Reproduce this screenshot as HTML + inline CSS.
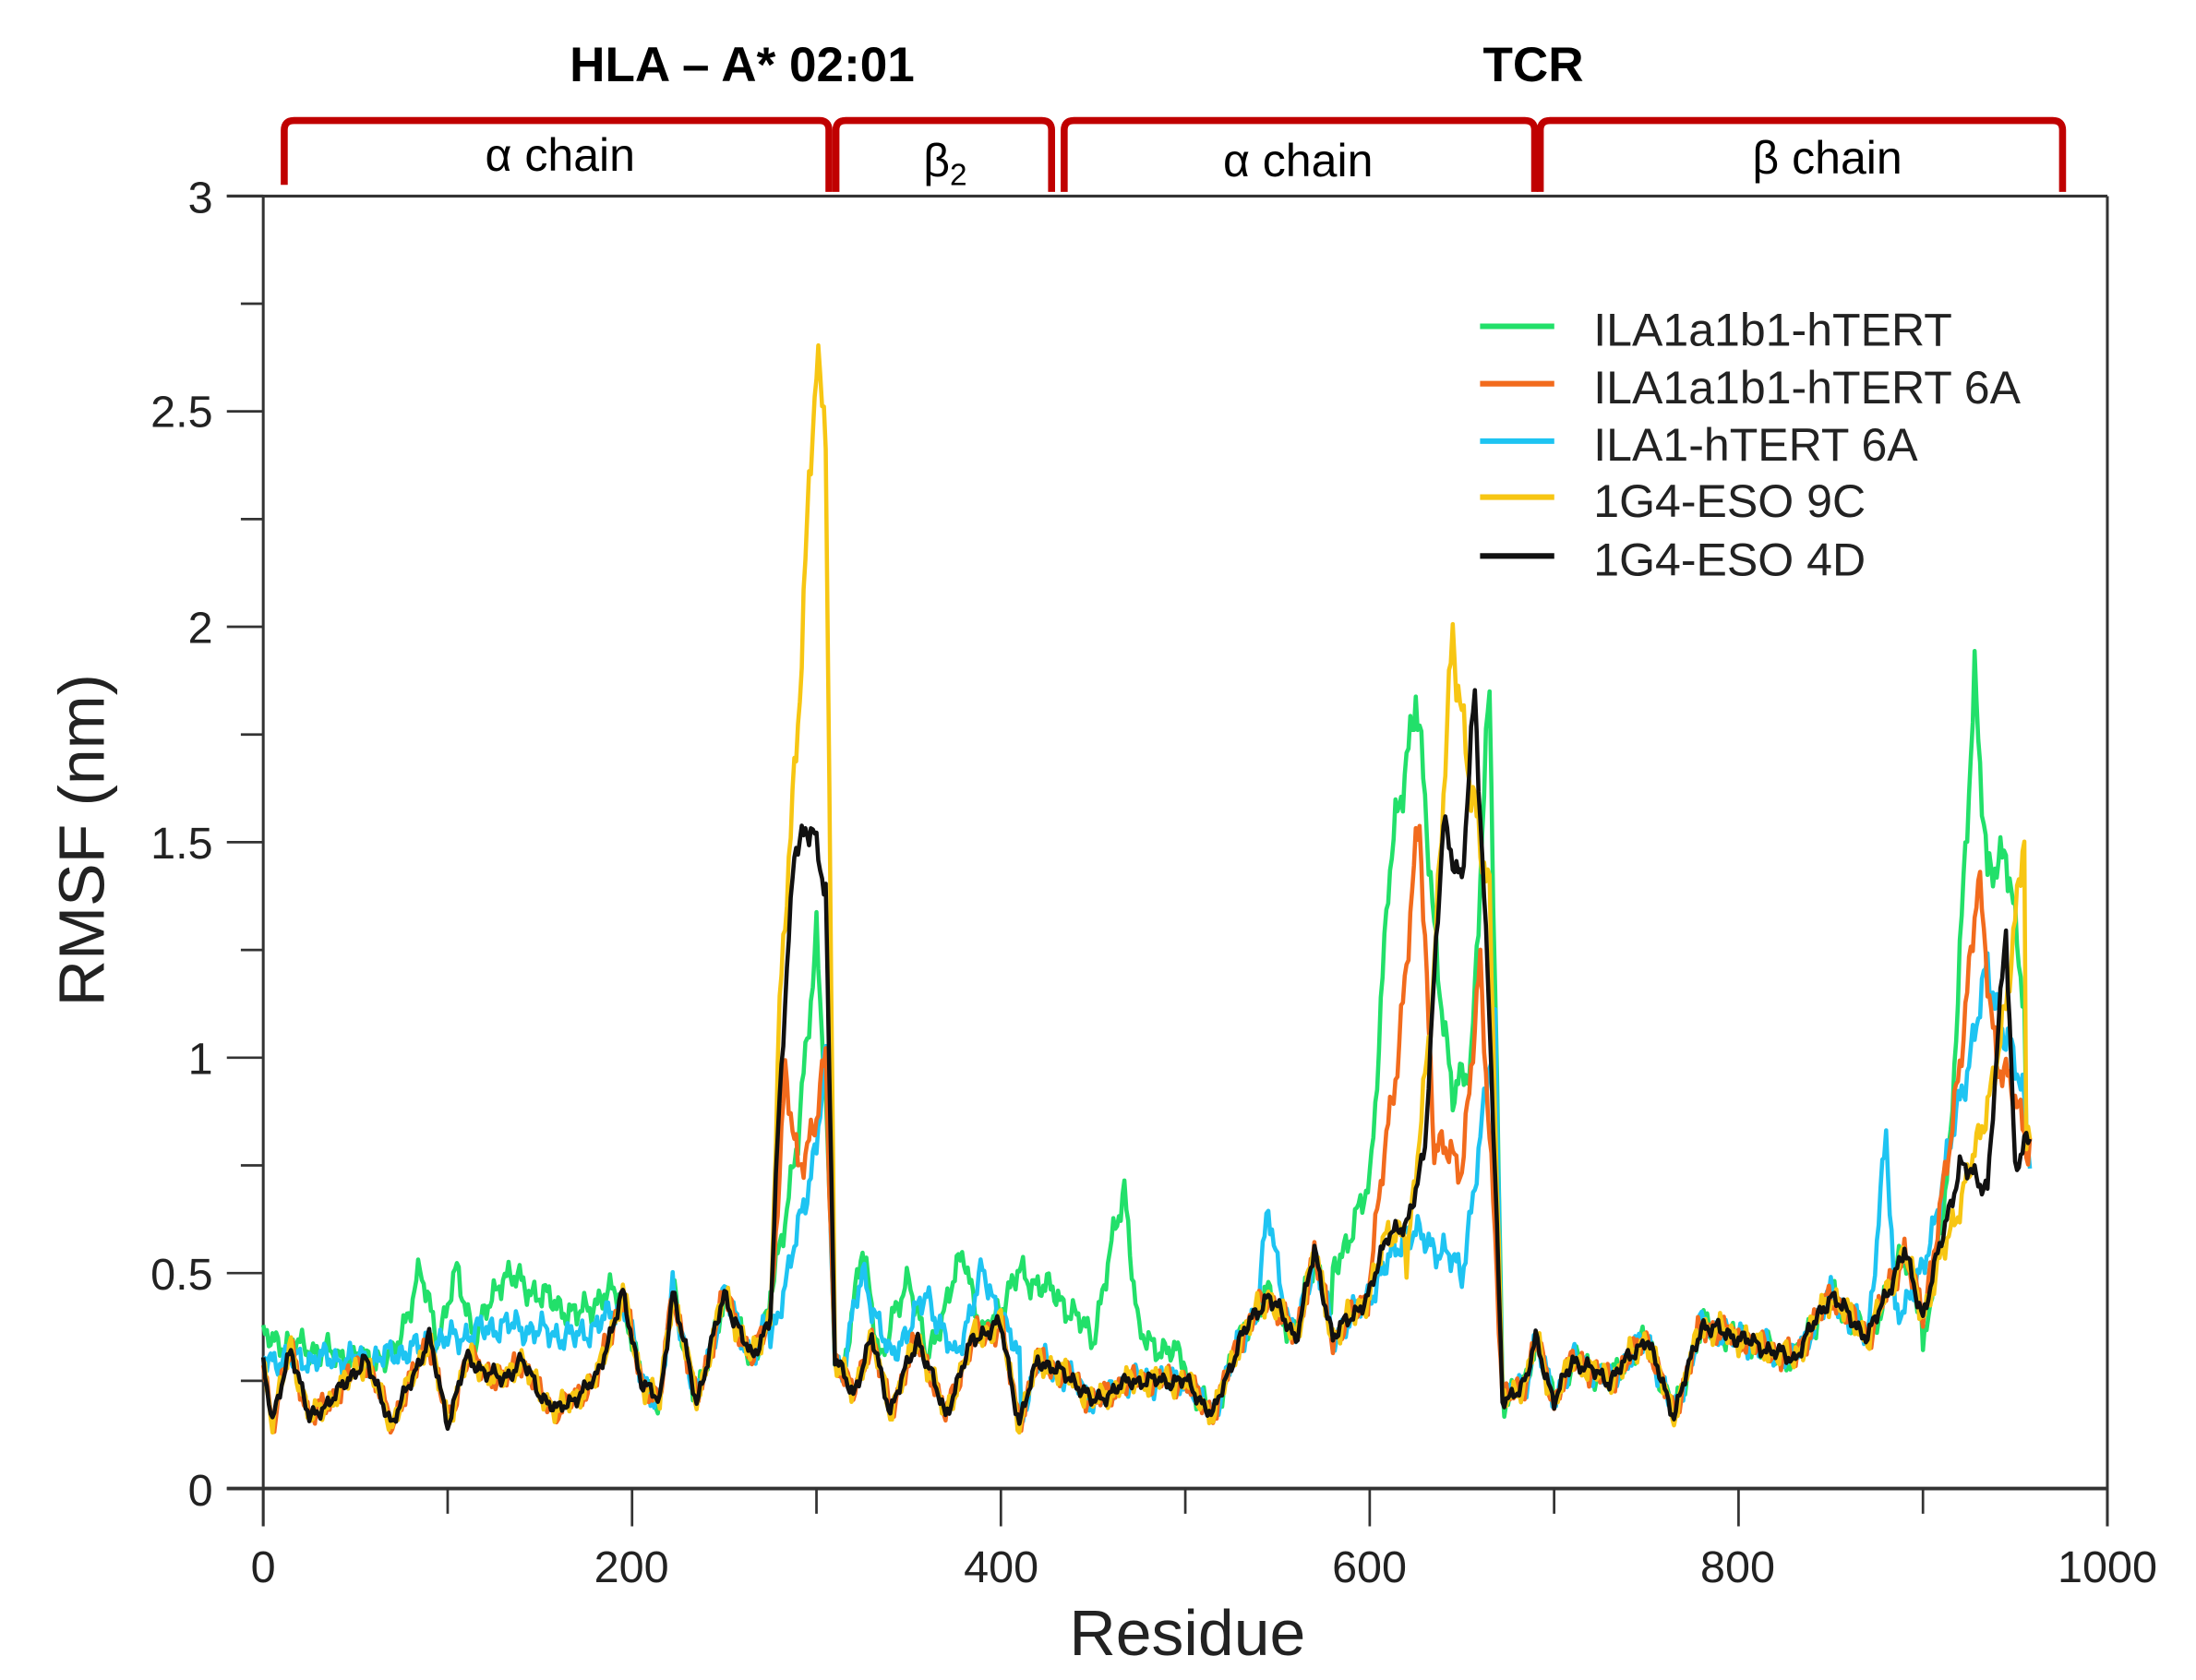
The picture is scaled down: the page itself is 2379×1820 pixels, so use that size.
<!DOCTYPE html>
<html><head><meta charset="utf-8"><style>
html,body{margin:0;padding:0;background:#fff;}
svg{display:block;}
text{font-family:"Liberation Sans",sans-serif;}
.cal{font-family:"Liberation Sans Narrow","Liberation Sans",sans-serif;}
</style></head><body>
<svg id="s" width="2379" height="1820" viewBox="0 0 1568.3 1199.7" xmlns="http://www.w3.org/2000/svg">
<rect width="1568.3" height="1199.7" fill="#fff"/>
<text class="cal" x="530" y="58" font-size="35" font-weight="bold" text-anchor="middle">HLA – A* 02:01</text>
<text class="cal" x="1095" y="58" font-size="35" font-weight="bold" text-anchor="middle">TCR</text>
<g fill="none" stroke="#c00000" stroke-width="5" stroke-linejoin="round">
<path d="M203,132 L203,93 Q203,86 210,86 L585,86 Q592,86 592,93 L592,137"/>
<path d="M597,137 L597,93 Q597,86 604,86 L744,86 Q751,86 751,93 L751,137"/>
<path d="M760,137 L760,93 Q760,86 767,86 L1089,86 Q1096,86 1096,93 L1096,137"/>
<path d="M1100,137 L1100,93 Q1100,86 1107,86 L1466,86 Q1473,86 1473,93 L1473,137"/>
</g>
<text class="cal" x="400" y="122" font-size="33" text-anchor="middle">α chain</text>
<text class="cal" x="675" y="126" font-size="33" text-anchor="middle">β<tspan font-size="22" dy="6">2</tspan></text>
<text class="cal" x="927" y="126" font-size="33" text-anchor="middle">α chain</text>
<text class="cal" x="1305" y="124" font-size="33" text-anchor="middle">β chain</text>
<g stroke="#333" stroke-width="2" fill="none">
<line x1="162" y1="140" x2="1505" y2="140"/>
<line x1="162" y1="1063" x2="1505" y2="1063" stroke-width="2.5"/>
<line x1="188" y1="140" x2="188" y2="1090"/>
<line x1="1505" y1="140" x2="1505" y2="1090"/>
</g>
<g id="ticks" stroke="#333" stroke-width="1.8"></g>
<g font-size="32" fill="#222" text-anchor="end">
<text x="152" y="1075">0</text>
<text x="152" y="921">0.5</text>
<text x="152" y="767">1</text>
<text x="152" y="613">1.5</text>
<text x="152" y="459">2</text>
<text x="152" y="305">2.5</text>
<text x="152" y="152">3</text>
</g>
<g font-size="32" fill="#222" text-anchor="middle">
<text x="188" y="1130">0</text>
<text x="451" y="1130">200</text>
<text x="715" y="1130">400</text>
<text x="978" y="1130">600</text>
<text x="1241" y="1130">800</text>
<text x="1505" y="1130">1000</text>
</g>
<text x="848" y="1182" font-size="46" text-anchor="middle" fill="#222">Residue</text>
<text transform="translate(74,600) rotate(-90)" font-size="46" text-anchor="middle" fill="#222">RMSF (nm)</text>
<g id="series" fill="none" stroke-width="3" stroke-linejoin="round"></g>
<g stroke-width="4">
<line x1="1057" y1="233" x2="1110" y2="233" stroke="#22e06a"/>
<line x1="1057" y1="274" x2="1110" y2="274" stroke="#f26b1d"/>
<line x1="1057" y1="315" x2="1110" y2="315" stroke="#1ec4f2"/>
<line x1="1057" y1="355" x2="1110" y2="355" stroke="#f7c613"/>
<line x1="1057" y1="397" x2="1110" y2="397" stroke="#111"/>
</g>
<g font-size="33" fill="#222">
<text x="1138" y="247">ILA1a1b1-hTERT</text>
<text x="1138" y="288">ILA1a1b1-hTERT 6A</text>
<text x="1138" y="329">ILA1-hTERT 6A</text>
<text x="1138" y="369">1G4-ESO 9C</text>
<text x="1138" y="411">1G4-ESO 4D</text>
</g>
</svg>
<script>
var NS="http://www.w3.org/2000/svg";
function X(r){return 188+r*1.317;}
function Y(v){return 1063-v*307.7;}
var tk=document.getElementById("ticks");
function ln(a,b,c,d){var l=document.createElementNS(NS,"line");l.setAttribute("x1",a);l.setAttribute("y1",b);l.setAttribute("x2",c);l.setAttribute("y2",d);tk.appendChild(l);}
for(var r=0;r<=1000;r+=100){ln(X(r),1063,X(r),r%200==0?1090:1081);}
for(var v=0;v<=3;v+=0.25){var maj=Math.abs(v*2-Math.round(v*2))<1e-6;ln(maj?162:172,Y(v),188,Y(v));}
var base=[[0,0.3],[5,0.15],[15,0.33],[25,0.16],[40,0.22],[55,0.3],[70,0.15],[90,0.35],[100,0.15],[110,0.3],[130,0.25],[140,0.3],[150,0.22],[160,0.18],[180,0.25],[195,0.45],[205,0.25],[215,0.2],[222,0.46],[235,0.2],[250,0.45],[265,0.3],[275,0.4],[280,0.9],[288,1.5],[298,1.52],[305,1.4],[310,0.3],[320,0.22],[330,0.35],[340,0.18],[355,0.35],[370,0.17],[385,0.35],[400,0.38],[410,0.15],[420,0.3],[440,0.25],[450,0.2],[470,0.25],[500,0.25],[515,0.17],[530,0.35],[545,0.45],[560,0.35],[570,0.55],[580,0.35],[600,0.45],[610,0.6],[620,0.6],[630,0.8],[640,1.55],[650,1.4],[657,1.85],[665,1.1],[672,0.2],[685,0.25],[690,0.35],[700,0.2],[710,0.3],[730,0.25],[750,0.35],[765,0.17],[780,0.38],[800,0.35],[830,0.3],[850,0.45],[870,0.35],[890,0.55],[900,0.4],[920,0.75],[935,0.7],[945,1.3],[950,0.75],[955,0.8]];
var S=[
{c:"#22e06a",o:[[[0,0.35],[50,0.3],[70,0.3],[85,0.5],[95,0.35],[105,0.5],[115,0.35],[130,0.5],[150,0.45],[170,0.4],[185,0.45],[195,0.45]],[[275,0.45],[290,0.8],[300,1.3],[305,0.9],[310,0.3]],[[315,0.3],[325,0.55],[335,0.3],[350,0.5],[360,0.3],[380,0.55],[390,0.35],[410,0.5],[430,0.45],[450,0.35],[467,0.7],[475,0.35],[500,0.3]],[[580,0.5],[600,0.7],[610,1.4],[625,1.85],[635,1.3],[645,0.9],[655,1.0],[665,1.85],[672,0.25]],[[900,0.3],[915,0.8],[928,1.9],[935,1.4],[945,1.5],[955,1.1]]],p:1},
{c:"#1ec4f2",o:[[[0,0.3],[60,0.3],[130,0.38],[170,0.35],[195,0.42]],[[275,0.35],[285,0.5],[300,0.8],[305,1.0],[310,0.3]],[[315,0.3],[325,0.5],[340,0.3],[360,0.45],[375,0.3],[390,0.5],[410,0.3]],[[540,0.45],[545,0.65],[555,0.4]],[[600,0.45],[620,0.6],[640,0.55],[650,0.5],[660,0.8],[668,1.1],[672,0.25]],[[870,0.35],[880,0.82],[885,0.4],[900,0.5],[920,0.9],[935,1.2],[955,0.9]]],p:2},
{c:"#f26b1d",o:[[[275,0.4],[283,0.95],[290,0.75],[300,0.85],[305,1.0],[310,0.3]],[[600,0.5],[615,1.0],[627,1.55],[635,0.8],[650,0.75],[660,1.2],[668,0.6],[672,0.2]],[[900,0.4],[915,0.8],[930,1.4],[940,1.0],[955,0.85]]],p:3},
{c:"#f7c613",o:[[[275,0.4],[280,1.1],[290,1.8],[297,2.4],[300,2.57],[305,2.5],[310,0.3]],[[620,0.5],[635,1.2],[645,2.0],[655,1.6],[665,1.4],[672,0.2]],[[900,0.4],[930,0.8],[945,1.1],[955,1.55]]],p:4},
{c:"#111",o:[],p:5}];
function interp(k,r){if(r<=k[0][0])return k[0][1];for(var i=1;i<k.length;i++){if(r<=k[i][0]){var a=k[i-1],b=k[i];return a[1]+(b[1]-a[1])*(r-a[0])/(b[0]-a[0]);}}return k[k.length-1][1];}
var g=document.getElementById("series");
S.forEach(function(s){
 var pts=[];
 for(var r=0;r<=958;r+=1){
  var v=interp(base,r);
  for(var j=0;j<s.o.length;j++){var k=s.o[j];if(r>=k[0][0]&&r<=k[k.length-1][0]){v=interp(k,r);break;}}
  var n=0.025*Math.sin(r*0.9+s.p*1.7)+0.02*Math.sin(r*2.3+s.p*3.1)+0.015*Math.sin(r*0.37+s.p);
  if(s.p==5)n*=0.6;
  v=Math.max(0.13,v+n*(0.6+v*0.5));
  pts.push(X(r).toFixed(1)+","+Y(v).toFixed(1));
 }
 var pl=document.createElementNS(NS,"polyline");pl.setAttribute("points",pts.join(" "));pl.setAttribute("stroke",s.c);g.appendChild(pl);
});
</script>
</body></html>
